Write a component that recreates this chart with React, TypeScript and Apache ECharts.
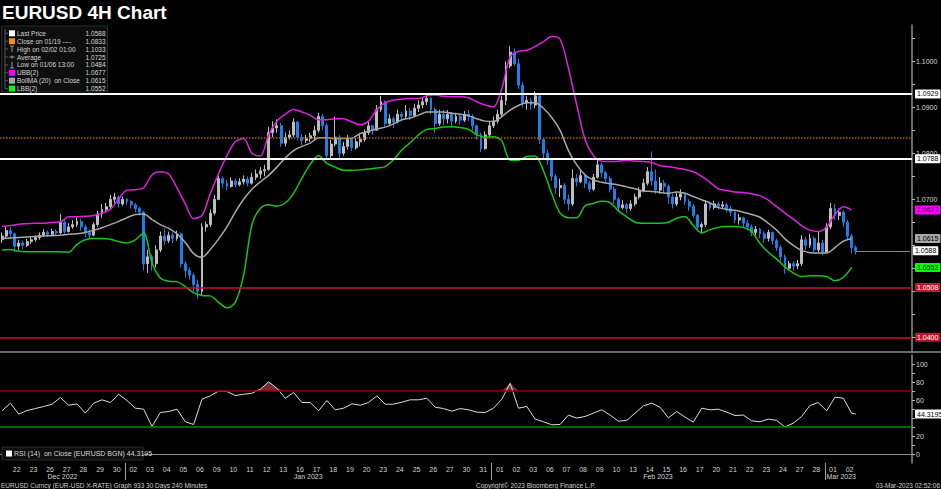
import React, { useEffect, useRef } from "react";
import * as echarts from "echarts";

// ---------------- DATA ----------------
const firstOpen = 1.0612;
// [close, high, low] per 4H-style bar (open = previous close)
const decBars = [
  [1.0620, 1.0628, 1.0605], [1.0632, 1.0640, 1.0615],
  [1.0625, 1.0640, 1.0618], [1.0598, 1.0628, 1.0586], [1.0605, 1.0612, 1.0590], [1.0600, 1.0610, 1.0592],
  [1.0608, 1.0614, 1.0596], [1.0612, 1.0618, 1.0603], [1.0617, 1.0622, 1.0608], [1.0622, 1.0628, 1.0612],
  [1.0628, 1.0635, 1.0618], [1.0624, 1.0632, 1.0618], [1.0630, 1.0636, 1.0620], [1.0627, 1.0634, 1.0620],
  [1.0650, 1.0668, 1.0625], [1.0630, 1.0656, 1.0625], [1.0640, 1.0648, 1.0628], [1.0645, 1.0655, 1.0636],
  [1.0652, 1.0660, 1.0640], [1.0640, 1.0658, 1.0632], [1.0628, 1.0645, 1.0618], [1.0622, 1.0634, 1.0614],
  [1.0645, 1.0650, 1.0620], [1.0668, 1.0675, 1.0640], [1.0678, 1.0690, 1.0660], [1.0684, 1.0692, 1.0672],
  [1.0700, 1.0710, 1.0680], [1.0705, 1.0714, 1.0692], [1.0690, 1.0708, 1.0682], [1.0700, 1.0706, 1.0686],
];
const janBars = [
  [1.0695, 1.0703, 1.0688], [1.0688, 1.0698, 1.0680], [1.0680, 1.0692, 1.0672], [1.0672, 1.0684, 1.0665],
  [1.0560, 1.0675, 1.0545], [1.0575, 1.0590, 1.0540], [1.0560, 1.0580, 1.0545], [1.0590, 1.0600, 1.0552],
  [1.0620, 1.0630, 1.0585], [1.0610, 1.0637, 1.0600], [1.0622, 1.0630, 1.0605], [1.0615, 1.0628, 1.0605],
  [1.0625, 1.0632, 1.0610], [1.0560, 1.0628, 1.0552], [1.0545, 1.0565, 1.0530], [1.0535, 1.0552, 1.0525],
  [1.0515, 1.0540, 1.0500], [1.0500, 1.0525, 1.0484], [1.0640, 1.0648, 1.0490], [1.0645, 1.0652, 1.0630],
  [1.0670, 1.0678, 1.0640], [1.0700, 1.0710, 1.0665], [1.0745, 1.0752, 1.0698], [1.0735, 1.0750, 1.0725],
  [1.0728, 1.0742, 1.0720], [1.0740, 1.0748, 1.0725], [1.0732, 1.0745, 1.0726], [1.0738, 1.0746, 1.0728],
  [1.0744, 1.0752, 1.0732], [1.0735, 1.0750, 1.0728], [1.0748, 1.0758, 1.0732], [1.0755, 1.0765, 1.0742],
  [1.0762, 1.0770, 1.0745], [1.0765, 1.0775, 1.0750], [1.0845, 1.0858, 1.0762], [1.0855, 1.0870, 1.0835],
  [1.0860, 1.0874, 1.0845], [1.0822, 1.0866, 1.0814], [1.0835, 1.0845, 1.0815], [1.0840, 1.0850, 1.0830],
  [1.0868, 1.0876, 1.0835], [1.0835, 1.0870, 1.0828], [1.0828, 1.0842, 1.0818], [1.0832, 1.0840, 1.0822],
  [1.0838, 1.0845, 1.0825], [1.0850, 1.0860, 1.0830], [1.0880, 1.0888, 1.0845], [1.0860, 1.0885, 1.0850],
  [1.0795, 1.0865, 1.0788], [1.0820, 1.0830, 1.0790], [1.0835, 1.0880, 1.0815], [1.0800, 1.0840, 1.0788],
  [1.0815, 1.0825, 1.0795], [1.0830, 1.0840, 1.0808], [1.0812, 1.0835, 1.0805], [1.0825, 1.0834, 1.0808],
  [1.0830, 1.0840, 1.0815], [1.0845, 1.0852, 1.0825], [1.0860, 1.0868, 1.0840], [1.0850, 1.0862, 1.0840],
  [1.0895, 1.0905, 1.0850], [1.0912, 1.0925, 1.0890], [1.0865, 1.0915, 1.0858], [1.0875, 1.0885, 1.0862],
  [1.0868, 1.0880, 1.0855], [1.0885, 1.0895, 1.0865], [1.0880, 1.0890, 1.0870], [1.0892, 1.0905, 1.0876],
  [1.0882, 1.0898, 1.0872], [1.0898, 1.0908, 1.0878], [1.0905, 1.0915, 1.0890], [1.0912, 1.0922, 1.0898],
  [1.0920, 1.0930, 1.0905], [1.0895, 1.0922, 1.0885], [1.0865, 1.0900, 1.0845], [1.0885, 1.0895, 1.0860],
  [1.0875, 1.0894, 1.0862], [1.0885, 1.0894, 1.0865], [1.0870, 1.0890, 1.0860], [1.0880, 1.0888, 1.0865],
  [1.0872, 1.0885, 1.0862], [1.0885, 1.0892, 1.0868], [1.0880, 1.0895, 1.0870], [1.0860, 1.0885, 1.0850],
  [1.0840, 1.0862, 1.0830], [1.0810, 1.0845, 1.0803], [1.0840, 1.0848, 1.0808], [1.0860, 1.0868, 1.0835],
];
const febBars = [
  [1.0870, 1.0880, 1.0855], [1.0885, 1.0895, 1.0865], [1.0915, 1.0925, 1.0880], [1.0990, 1.1000, 1.0905],
  [1.1020, 1.1033, 1.0985], [1.0995, 1.1028, 1.0990], [1.0948, 1.1005, 1.0940], [1.0910, 1.0955, 1.0900],
  [1.0915, 1.0925, 1.0895], [1.0905, 1.0920, 1.0895], [1.0925, 1.0935, 1.0898], [1.0830, 1.0928, 1.0820],
  [1.0800, 1.0815, 1.0785], [1.0785, 1.0808, 1.0775], [1.0750, 1.0790, 1.0740], [1.0725, 1.0755, 1.0712],
  [1.0730, 1.0745, 1.0705], [1.0700, 1.0735, 1.0690], [1.0690, 1.0710, 1.0676], [1.0745, 1.0765, 1.0685],
  [1.0738, 1.0755, 1.0728], [1.0752, 1.0762, 1.0735], [1.0735, 1.0758, 1.0725], [1.0722, 1.0740, 1.0715],
  [1.0748, 1.0755, 1.0718], [1.0775, 1.0788, 1.0745], [1.0758, 1.0780, 1.0748], [1.0745, 1.0762, 1.0738],
  [1.0722, 1.0750, 1.0715], [1.0700, 1.0728, 1.0690], [1.0682, 1.0705, 1.0675], [1.0688, 1.0698, 1.0678],
  [1.0680, 1.0692, 1.0670], [1.0690, 1.0698, 1.0675], [1.0705, 1.0712, 1.0685], [1.0718, 1.0726, 1.0700],
  [1.0735, 1.0745, 1.0715], [1.0760, 1.0770, 1.0730], [1.0740, 1.0804, 1.0730], [1.0720, 1.0765, 1.0712],
  [1.0735, 1.0748, 1.0712], [1.0728, 1.0742, 1.0715], [1.0705, 1.0732, 1.0690], [1.0690, 1.0712, 1.0680],
  [1.0705, 1.0714, 1.0685], [1.0712, 1.0722, 1.0698], [1.0695, 1.0715, 1.0688], [1.0685, 1.0700, 1.0675],
  [1.0665, 1.0690, 1.0660], [1.0640, 1.0668, 1.0630], [1.0645, 1.0650, 1.0626], [1.0690, 1.0698, 1.0640],
  [1.0682, 1.0696, 1.0676], [1.0690, 1.0697, 1.0678], [1.0685, 1.0695, 1.0678], [1.0688, 1.0696, 1.0680],
  [1.0680, 1.0692, 1.0672], [1.0672, 1.0686, 1.0664], [1.0655, 1.0676, 1.0648], [1.0660, 1.0668, 1.0645],
  [1.0648, 1.0662, 1.0640], [1.0640, 1.0655, 1.0632], [1.0628, 1.0645, 1.0620], [1.0635, 1.0642, 1.0622],
  [1.0625, 1.0638, 1.0615], [1.0615, 1.0630, 1.0605], [1.0628, 1.0634, 1.0608], [1.0610, 1.0630, 1.0602],
  [1.0595, 1.0615, 1.0588], [1.0575, 1.0600, 1.0565], [1.0550, 1.0580, 1.0538], [1.0560, 1.0566, 1.0545],
  [1.0555, 1.0565, 1.0545], [1.0560, 1.0568, 1.0548], [1.0612, 1.0622, 1.0555], [1.0600, 1.0618, 1.0590],
  [1.0615, 1.0625, 1.0595], [1.0590, 1.0620, 1.0582], [1.0605, 1.0630, 1.0585], [1.0585, 1.0612, 1.0578],
];
const marBars = [
  [1.0640, 1.0648, 1.0585], [1.0680, 1.0692, 1.0635], [1.0665, 1.0690, 1.0655], [1.0672, 1.0680, 1.0655],
  [1.0650, 1.0676, 1.0640], [1.0620, 1.0655, 1.0612], [1.0595, 1.0625, 1.0582], [1.0588, 1.0600, 1.0580],
];

// Bollinger bands, one reading every 2 bars
const ubb = [
  1.0641, 1.0643, 1.0646, 1.0647, 1.0648, 1.0648, 1.0650, 1.0651, 1.0662, 1.0662,
  1.0663, 1.0665, 1.0670, 1.0678, 1.0701, 1.0720, 1.0721, 1.0725, 1.0753, 1.0760,
  1.0755, 1.0725, 1.0690, 1.0658, 1.0665, 1.0712, 1.0756, 1.0795, 1.0825, 1.0832,
  1.0800, 1.0794, 1.0840, 1.0870, 1.0885, 1.0895, 1.0890, 1.0883, 1.0873, 1.0873,
  1.0875, 1.0875, 1.0868, 1.0862, 1.0870, 1.0895, 1.0910, 1.0916, 1.0918, 1.0919,
  1.0919, 1.0925, 1.0927, 1.0924, 1.0923, 1.0923, 1.0921, 1.0912, 1.0905, 1.0901,
  1.0940, 1.1010, 1.1022, 1.1024, 1.1032, 1.1043, 1.1054, 1.1048, 1.0985, 1.0905,
  1.0830, 1.0795, 1.0783, 1.0782, 1.0783, 1.0785, 1.0783, 1.0782, 1.0780, 1.0773,
  1.0771, 1.0768, 1.0765, 1.0760, 1.0750, 1.0737, 1.0723, 1.0719, 1.0716, 1.0715,
  1.0712, 1.0708, 1.0698, 1.0684, 1.0670, 1.0657, 1.0643, 1.0633, 1.0630, 1.0640,
  1.0667, 1.0684, 1.0677,
];
const bollMa = [
  1.0615, 1.0616, 1.0617, 1.0618, 1.0619, 1.0620, 1.0621, 1.0622, 1.0624, 1.0625,
  1.0628, 1.0633, 1.0638, 1.0645, 1.0652, 1.0660, 1.0667, 1.0668, 1.0656, 1.0645,
  1.0637, 1.0625, 1.0606, 1.0582, 1.0574, 1.0591, 1.0614, 1.0640, 1.0672, 1.0700,
  1.0722, 1.0738, 1.0752, 1.0770, 1.0790, 1.0806, 1.0815, 1.0822, 1.0834, 1.0834,
  1.0832, 1.0832, 1.0833, 1.0843, 1.0848, 1.0853, 1.0857, 1.0864, 1.0873, 1.0877,
  1.0883, 1.0890, 1.0890, 1.0890, 1.0887, 1.0885, 1.0882, 1.0875, 1.0870, 1.0869,
  1.0880, 1.0894, 1.0904, 1.0910, 1.0910, 1.0898, 1.0878, 1.0850, 1.0806, 1.0775,
  1.0753, 1.0742, 1.0737, 1.0734, 1.0731, 1.0727, 1.0723, 1.0718, 1.0717, 1.0715,
  1.0713, 1.0716, 1.0713, 1.0706, 1.0699, 1.0692, 1.0682, 1.0678, 1.0676, 1.0672,
  1.0667, 1.0661, 1.0648, 1.0633, 1.0614, 1.0600, 1.0589, 1.0584, 1.0583, 1.0583,
  1.0595, 1.0609, 1.0615,
];
const lbb = [
  1.0590, 1.0591, 1.0587, 1.0586, 1.0586, 1.0586, 1.0586, 1.0586, 1.0585, 1.0602,
  1.0612, 1.0615, 1.0615, 1.0613, 1.0608, 1.0605, 1.0612, 1.0627, 1.0562, 1.0529,
  1.0522, 1.0521, 1.0510, 1.0497, 1.0491, 1.0490, 1.0476, 1.0464, 1.0476, 1.0535,
  1.0645, 1.0680, 1.0688, 1.0685, 1.0692, 1.0713, 1.0746, 1.0776, 1.0795, 1.0778,
  1.0770, 1.0763, 1.0763, 1.0764, 1.0766, 1.0768, 1.0771, 1.0786, 1.0807, 1.0823,
  1.0840, 1.0852, 1.0854, 1.0857, 1.0858, 1.0856, 1.0852, 1.0840, 1.0835, 1.0836,
  1.0827, 1.0785, 1.0785, 1.0793, 1.0794, 1.0762, 1.0712, 1.0670, 1.0660, 1.0660,
  1.0686, 1.0691, 1.0696, 1.0693, 1.0675, 1.0662, 1.0650, 1.0648, 1.0648, 1.0648,
  1.0650, 1.0659, 1.0662, 1.0643, 1.0627, 1.0634, 1.0639, 1.0641, 1.0641, 1.0639,
  1.0630, 1.0604, 1.0585, 1.0570, 1.0553, 1.0540, 1.0532, 1.0534, 1.0534, 1.0532,
  1.0523, 1.0530, 1.0552,
];
// RSI(14), one reading every 2 bars
const rsi = [
  48, 56.5, 44.3, 48.3, 50.5, 52.8, 55.3, 62.7, 54.2, 55.7,
  45.4, 56.5, 60.2, 57.2, 66.4, 59.4, 50.9, 49.8, 30.6, 46.1,
  47.2, 49.8, 35.8, 32.8, 60.9, 64.6, 70, 69.4, 65, 66.4,
  67.5, 72, 80.1, 73, 62, 68.3, 57.2, 57.2, 48, 59.4,
  49.1, 50.9, 55.7, 54.2, 57.2, 64.6, 55.3, 55.3, 57.6, 60.2,
  60.2, 62, 52, 50.5, 47.6, 50.5, 49.1, 46.5, 46.1, 50.9,
  60.9, 78.6, 50.9, 52.8, 38.8, 35.8, 32.5, 32.8, 43.2, 39.9,
  41.7, 45.4, 49.1, 43.2, 36.5, 37.3, 45.4, 53.5, 56.5, 52,
  40.2, 47.2, 41, 35.4, 50.9, 49.1, 49.8, 46.5, 42.8, 43.2,
  36.9, 35.8, 38.8, 37.3, 29.9, 34.3, 41.7, 53.9, 57.2, 48,
  63.1, 62, 45.4,
];
const rsiLast = 44.3195;

const dayLabels = [
  "22", "23", "26", "27", "28", "29", "30",
  "02", "03", "04", "05", "06", "09", "10", "11", "12", "13", "16", "17", "18", "19", "20",
  "23", "24", "25", "26", "27", "30", "31",
  "01", "02", "03", "06", "07", "08", "09", "10", "13", "14", "15", "16", "17", "20", "21",
  "22", "23", "24", "27", "28",
  "01", "02",
];
const monthNames = ["Dec 2022", "Jan 2023", "Feb 2023", "Mar 2023"];

const supportLevels = [1.0508, 1.04];
const resistLevels = [1.0929, 1.0788];
const closeRef = 1.0833;

const yLabelValues = [1.07, 1.08, 1.09, 1.1];
const yTickValues = [1.04, 1.045, 1.05, 1.055, 1.06, 1.065, 1.07, 1.075, 1.08, 1.085, 1.09, 1.095, 1.1, 1.105];
const rsiLabelValues = [0, 20, 60, 80, 100];
const rsiTickValues = [0, 10, 20, 30, 40, 50, 60, 70, 80, 90, 100];

const legendRows = [
  { icon: "sq", color: "#ffffff", label: "Last Price", value: "1.0588" },
  { icon: "sq", color: "#ff8c00", label: "Close on 01/19 ----", value: "1.0833" },
  { icon: "hi", color: "#9a9a9a", label: "High on 02/02 01:00", value: "1.1033" },
  { icon: "avg", color: "#9a9a9a", label: "Average", value: "1.0725" },
  { icon: "lo", color: "#9a9a9a", label: "Low on 01/06 13:00", value: "1.0484" },
  { icon: "sq", color: "#ff00ff", label: "UBB(2)", value: "1.0677" },
  { icon: "sq", color: "#a8a8a8", label: "BollMA (20)  on Close", value: "1.0615" },
  { icon: "sq", color: "#00ff00", label: "LBB(2)", value: "1.0552" },
];

// ---------------- BUILD ----------------
const FONT = "'Liberation Sans', Arial, sans-serif";
const GRAY = "#8c8c8c";
const HIDDEN_LINE = { color: "rgba(0,0,0,0)", width: 0 };

const LEAD = 2; // bars of Dec 21 shown before Dec 22
const PER_DAY = 4;
const EMPTY_RIGHT = 13;
const PLOT_W = 912;
const AXIS_Y = 463;

const allBars = [...decBars, ...janBars, ...febBars, ...marBars];
let prevClose = firstOpen;
const candles = allBars.map(([c, h, l]) => {
  const o = prevClose;
  prevClose = c;
  return [o, c, Math.min(l, o, c), Math.max(h, o, c)];
});
const nBars = candles.length;
const lastIdx = nBars - 1;
const lastClose = allBars[lastIdx][0];
const cats = Array.from({ length: nBars + EMPTY_RIGHT }, (_, i) => String(i));
const band = PLOT_W / cats.length;

const toPts = (arr: number[]) => arr.map((v, k) => [k * 2, v]);
const rsiPts = [...toPts(rsi), [lastIdx, rsiLast]];
const rsiOver = rsiPts.map(([x, v]) => [x, Math.max(v, 70)]);

const dayLabelAt = new Map<number, string>();
dayLabels.forEach((d, i) => dayLabelAt.set(LEAD + i * PER_DAY + 2, d));

const monthSizes = [decBars.length, janBars.length, febBars.length, marBars.length];
const monthGraphics: any[] = [];
{
  let s = 0;
  monthSizes.forEach((n, m) => {
    if (m > 0) {
      const x = Math.round(s * band) + 0.5;
      monthGraphics.push({
        type: "line", shape: { x1: x, y1: AXIS_Y, x2: x, y2: AXIS_Y + 17 },
        style: { stroke: "#a0a0a0", lineWidth: 1 }, z: 50,
      });
    }
    monthGraphics.push({
      type: "text", x: (s + n / 2) * band, y: AXIS_Y + 13, z: 50,
      style: { text: monthNames[m], fill: "#d4d4d4", fontSize: 7, fontFamily: FONT, align: "center", verticalAlign: "middle" },
    });
    s += n;
  });
}

const tag = (bg: string, fg: string, text: string) => ({
  show: true,
  position: "end",
  distance: 3,
  formatter: text,
  backgroundColor: bg,
  color: fg,
  fontSize: 7,
  fontFamily: FONT,
  padding: [1, 2, 1, 2],
  borderRadius: 1,
});

const legendGraphics: any[] = [];
legendGraphics.push({
  type: "rect",
  shape: { x: 1.5, y: 26, width: 106, height: 66 },
  style: { fill: "#0e0e0e", stroke: "#2c2c2c", lineWidth: 1 },
  z: 100,
});
legendGraphics.push({
  type: "line",
  shape: { x1: 5, y1: 29, x2: 5, y2: 89 },
  style: { stroke: "#555", lineWidth: 1 },
  z: 101,
});
legendRows.forEach((r, n) => {
  const y = 33.3 + 7.9 * n;
  legendGraphics.push({ type: "line", shape: { x1: 5, y1: y, x2: 8, y2: y }, style: { stroke: "#555", lineWidth: 1 }, z: 101 });
  if (r.icon === "sq") {
    legendGraphics.push({ type: "rect", shape: { x: 9, y: y - 3, width: 6, height: 6 }, style: { fill: r.color }, z: 101 });
  } else if (r.icon === "hi" || r.icon === "lo") {
    const yy = r.icon === "hi" ? y - 3 : y + 3;
    legendGraphics.push({ type: "line", shape: { x1: 12, y1: y - 3, x2: 12, y2: y + 3 }, style: { stroke: r.color, lineWidth: 1 }, z: 101 });
    legendGraphics.push({ type: "line", shape: { x1: 10, y1: yy, x2: 14, y2: yy }, style: { stroke: r.color, lineWidth: 1 }, z: 101 });
  } else {
    legendGraphics.push({ type: "line", shape: { x1: 9.5, y1: y, x2: 14.5, y2: y }, style: { stroke: r.color, lineWidth: 1 }, z: 101 });
    legendGraphics.push({ type: "line", shape: { x1: 12, y1: y - 1.5, x2: 12, y2: y + 1.5 }, style: { stroke: r.color, lineWidth: 1 }, z: 101 });
  }
  legendGraphics.push({
    type: "text", x: 17, y, z: 101,
    style: { text: r.label, fill: "#d6d6d6", fontSize: 6.5, fontFamily: FONT, verticalAlign: "middle" },
  });
  legendGraphics.push({
    type: "text", x: 105.5, y, z: 101,
    style: { text: r.value, fill: "#d6d6d6", fontSize: 6.5, fontFamily: FONT, verticalAlign: "middle", align: "right" },
  });
});

const option: any = {
  animation: false,
  backgroundColor: "#000000",
  textStyle: { fontFamily: FONT },
  grid: [
    { left: 0, right: 941 - PLOT_W, top: 25, height: 327 },
    { left: 0, right: 941 - PLOT_W, top: 355, height: AXIS_Y - 355 },
  ],
  xAxis: [
    {
      type: "category", gridIndex: 0, data: cats, boundaryGap: true, position: "bottom",
      axisLine: { show: true, lineStyle: { color: GRAY, width: 1.5 } },
      axisTick: { show: false }, axisLabel: { show: false }, splitLine: { show: false },
    },
    {
      type: "category", gridIndex: 1, data: cats, boundaryGap: true, position: "bottom",
      axisLine: { show: true, lineStyle: { color: GRAY, width: 1 } },
      axisTick: { show: false },
      axisLabel: {
        interval: (i: number) => dayLabelAt.has(i),
        formatter: (_v: string, i: number) => dayLabelAt.get(i) || "",
        color: "#d4d4d4", fontSize: 7, margin: 3, padding: [0, 4, 0, 0],
      },
      splitLine: { show: false },
    },
  ],
  yAxis: [
    {
      type: "value", gridIndex: 0, position: "right", min: 1.0368, max: 1.1079,
      axisLine: { show: true, lineStyle: { color: GRAY, width: 1.5 } },
      axisTick: { show: true, customValues: yTickValues, length: 3, lineStyle: { color: "#bbb" } },
      axisLabel: { customValues: yLabelValues, formatter: (v: number) => v.toFixed(4), color: "#d8d8d8", fontSize: 7, margin: 4 },
      splitLine: { show: false },
    },
    {
      type: "value", gridIndex: 1, position: "right", min: -10, max: 110,
      axisLine: { show: true, lineStyle: { color: GRAY, width: 1.5 } },
      axisTick: { show: true, customValues: rsiTickValues, length: 3, lineStyle: { color: "#bbb" } },
      axisLabel: { customValues: rsiLabelValues, color: "#d8d8d8", fontSize: 7, margin: 4 },
      splitLine: { show: false },
    },
  ],
  series: [
    {
      type: "candlestick", xAxisIndex: 0, yAxisIndex: 0, data: candles, barWidth: 2.4,
      itemStyle: { color: "#bdbdbd", color0: "#1f7fe6", borderColor: "#bdbdbd", borderColor0: "#1f7fe6", borderWidth: 1 },
      markLine: {
        silent: true, symbol: ["none", "none"], animation: false, precision: 4,
        data: [
          ...resistLevels.map((v) => ({ yAxis: v, lineStyle: { color: "#ffffff", width: 2, type: "solid" }, label: tag("#ffffff", "#000000", v.toFixed(4)) })),
          { yAxis: closeRef, lineStyle: { color: "#a86400", width: 1.5, type: "dotted" }, label: { show: false } },
          ...supportLevels.map((v) => ({ yAxis: v, lineStyle: { color: "#c8102e", width: 1.5, type: "solid" }, label: tag("#c0182c", "#ffffff", v.toFixed(4)) })),
          { yAxis: ubb[ubb.length - 1], lineStyle: HIDDEN_LINE, label: tag("#ff00ff", "#000000", ubb[ubb.length - 1].toFixed(4)) },
          { yAxis: bollMa[bollMa.length - 1], lineStyle: HIDDEN_LINE, label: tag("#a8a8a8", "#000000", bollMa[bollMa.length - 1].toFixed(4)) },
          { yAxis: lbb[lbb.length - 1], lineStyle: HIDDEN_LINE, label: tag("#00ff00", "#000000", lbb[lbb.length - 1].toFixed(4)) },
          [
            { coord: [lastIdx, lastClose], lineStyle: { color: "#d07800", width: 1, type: "solid" }, label: tag("#ffffff", "#000000", lastClose.toFixed(4)) },
            { coord: [cats.length - 1, lastClose] },
          ],
        ],
      },
      z: 3,
    },
    {
      type: "line", xAxisIndex: 0, yAxisIndex: 0, data: toPts(ubb), smooth: 0.3, showSymbol: false,
      lineStyle: { color: "#e020e0", width: 1.5 }, itemStyle: { color: "#e020e0" }, z: 4,
    },
    {
      type: "line", xAxisIndex: 0, yAxisIndex: 0, data: toPts(bollMa), smooth: 0.3, showSymbol: false,
      lineStyle: { color: "#a8a8a8", width: 1.5 }, itemStyle: { color: "#a8a8a8" }, z: 4,
    },
    {
      type: "line", xAxisIndex: 0, yAxisIndex: 0, data: toPts(lbb), smooth: 0.3, showSymbol: false,
      lineStyle: { color: "#14c814", width: 1.5 }, itemStyle: { color: "#14c814" }, z: 4,
    },
    {
      type: "line", xAxisIndex: 1, yAxisIndex: 1, data: rsiOver, showSymbol: false,
      lineStyle: HIDDEN_LINE, areaStyle: { origin: 70, color: "#a34646" }, z: 2,
    },
    {
      type: "line", xAxisIndex: 1, yAxisIndex: 1, data: rsiPts, showSymbol: false,
      lineStyle: { color: "#dcdcdc", width: 1 }, itemStyle: { color: "#dcdcdc" }, z: 4,
      markLine: {
        silent: true, symbol: ["none", "none"], animation: false, precision: 4,
        data: [
          { yAxis: 70, lineStyle: { color: "#8e0000", width: 1.5, type: "solid" }, label: { show: false } },
          { yAxis: 30, lineStyle: { color: "#008a00", width: 1.5, type: "solid" }, label: { show: false } },
          { yAxis: rsiLast, lineStyle: HIDDEN_LINE, label: tag("#ffffff", "#000000", rsiLast.toFixed(4)) },
        ],
      },
    },
  ],
  graphic: [
    {
      type: "text", x: 2, y: 12,
      style: { text: "EURUSD 4H Chart", fill: "#ffffff", fontSize: 19, fontWeight: "bold", fontFamily: FONT, verticalAlign: "middle" },
    },
    ...legendGraphics,
    ...monthGraphics,
    { type: "line", shape: { x1: PLOT_W, y1: 352, x2: 941, y2: 352 }, style: { stroke: GRAY, lineWidth: 1.5 } },
    {
      type: "rect", shape: { x: 2, y: 447, width: 141, height: 13 },
      style: { fill: "#0e0e0e", stroke: "#2c2c2c", lineWidth: 1 }, z: 100,
    },
    { type: "rect", shape: { x: 6, y: 450.5, width: 6, height: 6 }, style: { fill: "#ffffff" }, z: 101 },
    {
      type: "text", x: 14, y: 453.5, z: 101,
      style: { text: "RSI (14)  on Close (EURUSD BGN) " + rsiLast.toFixed(4), fill: "#d6d6d6", fontSize: 7, fontFamily: FONT, verticalAlign: "middle" },
    },
    {
      type: "text", x: 1, y: 485,
      style: { text: "EURUSD Curncy (EUR-USD X-RATE) Graph 933 30 Days 240 Minutes", fill: "#d0d0d0", fontSize: 6.5, fontFamily: FONT, verticalAlign: "middle" },
    },
    {
      type: "text", x: 476, y: 485,
      style: { text: "Copyright\u00A9 2023 Bloomberg Finance L.P.", fill: "#d0d0d0", fontSize: 6.5, fontFamily: FONT, verticalAlign: "middle" },
    },
    {
      type: "text", x: 940, y: 485,
      style: { text: "03-Mar-2023 02:52:06", fill: "#d0d0d0", fontSize: 6.5, fontFamily: FONT, verticalAlign: "middle", align: "right" },
    },
  ],
};

export default function App() {
  const ref = useRef<HTMLDivElement>(null);
  useEffect(() => {
    document.body.style.margin = "0";
    document.body.style.background = "#000";
    const chart = echarts.init(ref.current as HTMLDivElement, null, { renderer: "svg", width: 941, height: 489 });
    chart.setOption(option);
    return () => chart.dispose();
  }, []);
  return <div ref={ref} style={{ position: "absolute", left: 0, top: 0, width: 941, height: 489, background: "#000" }} />;
}
